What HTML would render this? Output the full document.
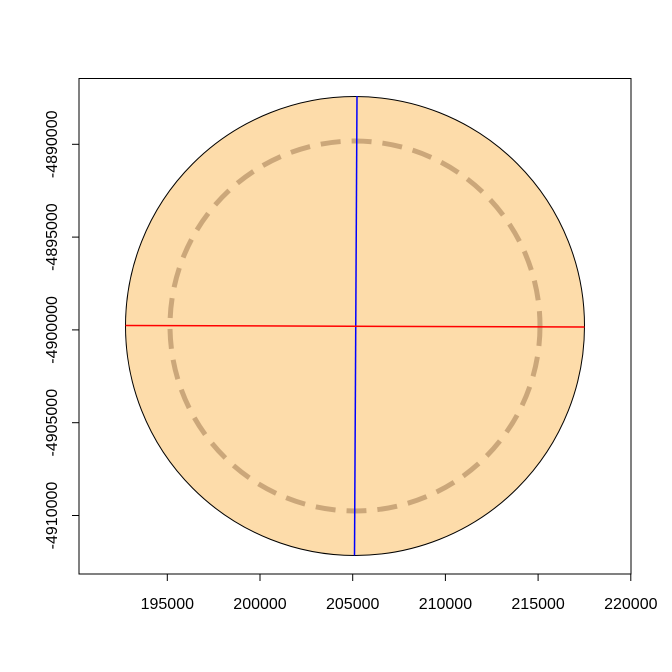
<!DOCTYPE html>
<html><head><meta charset="utf-8"><style>body{margin:0;background:#fff}svg{display:block}</style></head>
<body>
<svg width="672" height="672" viewBox="0 0 672 672" xmlns="http://www.w3.org/2000/svg" font-family="Liberation Sans, sans-serif" font-size="16">
<circle cx="355" cy="326" r="229.5" fill="#fddcaa" stroke="#000" stroke-width="1"/>
<circle cx="355" cy="326" r="185" fill="none" stroke="#cba77a" stroke-width="5" stroke-dasharray="20,11"/>
<line x1="357" y1="96" x2="354.5" y2="555.5" stroke="#0000ff" stroke-width="1.5"/>
<line x1="125.5" y1="325.5" x2="584.5" y2="327" stroke="#ff0000" stroke-width="1.5"/>
<rect x="79" y="78.5" width="552" height="495.5" fill="none" stroke="#000" stroke-width="1"/>
<g stroke="#000">
<line x1="167.3" y1="574" x2="167.3" y2="581"/>
<line x1="260" y1="574" x2="260" y2="581"/>
<line x1="352.7" y1="574" x2="352.7" y2="581"/>
<line x1="445.4" y1="574" x2="445.4" y2="581"/>
<line x1="538.1" y1="574" x2="538.1" y2="581"/>
<line x1="630.8" y1="574" x2="630.8" y2="581"/>
<line x1="72" y1="144.3" x2="79" y2="144.3"/>
<line x1="72" y1="237.1" x2="79" y2="237.1"/>
<line x1="72" y1="329.9" x2="79" y2="329.9"/>
<line x1="72" y1="422.7" x2="79" y2="422.7"/>
<line x1="72" y1="515.5" x2="79" y2="515.5"/>
</g>
<g text-anchor="middle">
<text x="167.3" y="609">195000</text>
<text x="260" y="609">200000</text>
<text x="352.7" y="609">205000</text>
<text x="445.4" y="609">210000</text>
<text x="538.1" y="609">215000</text>
<text x="630.8" y="609">220000</text>
<text transform="translate(57,144.3) rotate(-90)">-4890000</text>
<text transform="translate(57,237.1) rotate(-90)">-4895000</text>
<text transform="translate(57,329.9) rotate(-90)">-4900000</text>
<text transform="translate(57,422.7) rotate(-90)">-4905000</text>
<text transform="translate(57,515.5) rotate(-90)">-4910000</text>
</g>
</svg>
</body></html>
